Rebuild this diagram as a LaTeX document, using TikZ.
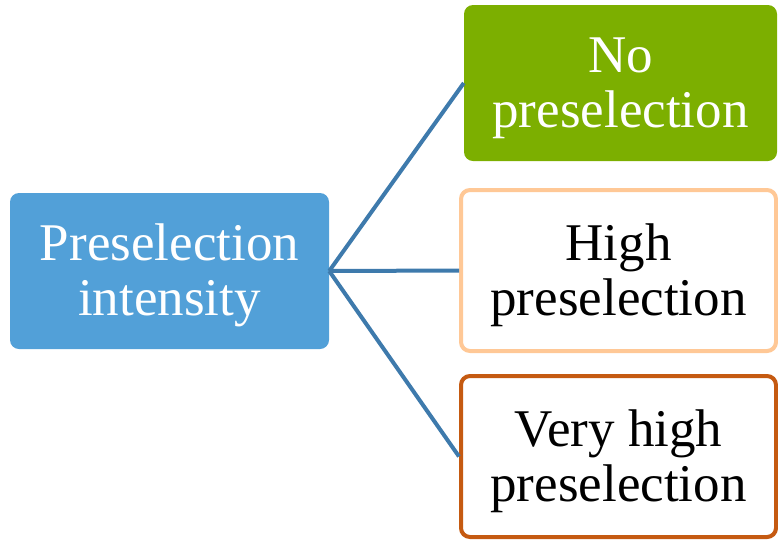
\documentclass[tikz,border=0pt]{standalone}
\usepackage{fontspec}
\setmainfont{Liberation Serif}
\definecolor{boxblue}{RGB}{82,160,216}
\definecolor{boxgreen}{RGB}{124,175,0}
\definecolor{peach}{RGB}{255,200,150}
\definecolor{rust}{RGB}{197,90,17}
\definecolor{linkblue}{RGB}{62,122,172}
\newcommand{\topstrut}{\rule{0pt}{46pt}}
\begin{document}
\begin{tikzpicture}[x=1pt,y=-1pt,
  box/.style={rounded corners=9pt, inner sep=0pt, align=center,
    font=\fontsize{53}{55}\selectfont},
  link/.style={draw=linkblue, line width=4pt}]
\useasboundingbox (0,0) rectangle (778,539);
\node[box, fill=boxblue, text=white, minimum width=319pt, minimum height=156pt] (root) at (169.5,271) {\topstrut Preselection\\intensity};
\node[box, fill=boxgreen, text=white, minimum width=313pt, minimum height=156pt] (none) at (620.5,83) {\topstrut No\\preselection};
\node[box, draw=peach, line width=4pt, fill=white, minimum width=315pt, minimum height=161pt] (high) at (618.5,270.5) {\topstrut High\\preselection};
\node[box, draw=rust, line width=4pt, fill=white, minimum width=315pt, minimum height=161pt] (vhigh) at (618.5,456.5) {\topstrut Very high\\preselection};
\draw[link] (root.east) -- (none.west);
\draw[link] (root.east) -- (high.west);
\draw[link] (root.east) -- (vhigh.west);
\end{tikzpicture}
\end{document}
